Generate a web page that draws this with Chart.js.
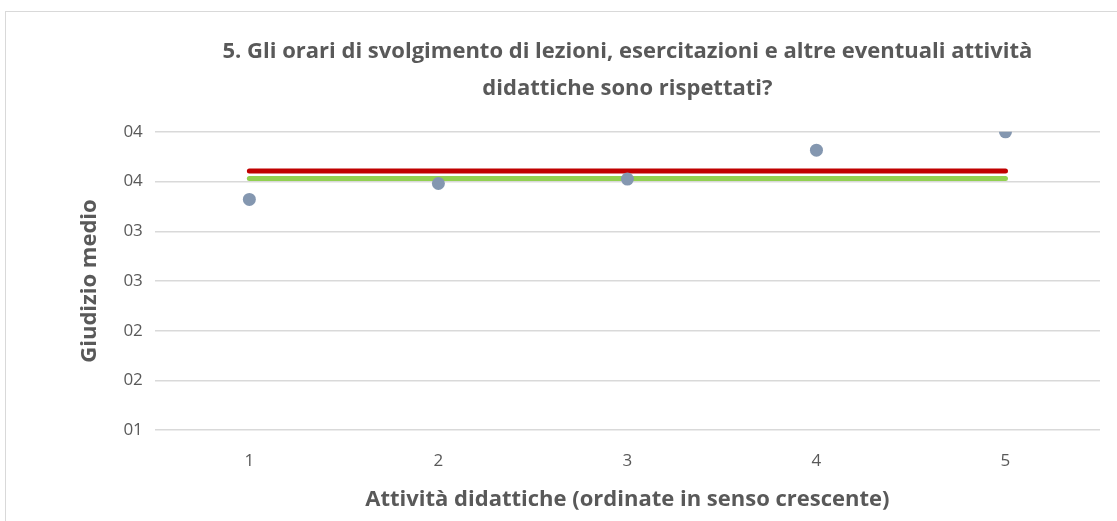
<!DOCTYPE html>
<html>
<head>
<meta charset="utf-8">
<script src="https://cdn.jsdelivr.net/npm/chart.js"></script>
<style>
  body { margin: 0; background: #fff; }
  #frame { position: absolute; left: 5px; top: 11px; width: 1120px; height: 520px; border: 1px solid #d9d9d9; }
  #wrap { position: absolute; left: 0; top: 0; width: 1117px; height: 521px; }
</style>
</head>
<body>
<div id="frame"></div>
<div id="wrap"><canvas id="chart"></canvas></div>
<script>
// Dati del grafico
const categorie = ['1', '2', '3', '4', '5'];
const giudizi = [3.32, 3.48, 3.525, 3.815, 4.0];
const mediaRossa = [3.605, 3.605, 3.605, 3.605, 3.605];
const mediaVerde = [3.53, 3.53, 3.53, 3.53, 3.53];

const font = "'Open Sans', sans-serif";

new Chart(document.getElementById('chart'), {
    type: 'line',
    data: {
        labels: categorie,
        datasets: [{
            label: 'Giudizio',
            data: giudizi,
            showLine: false,
            pointRadius: 6.5,
            pointBackgroundColor: '#8497b0',
            pointBorderWidth: 0
        }, {
            label: 'Media rossa',
            data: mediaRossa,
            borderColor: '#c00000',
            borderWidth: 5,
            borderCapStyle: 'round',
            pointRadius: 0
        }, {
            label: 'Media verde',
            data: mediaVerde,
            borderColor: '#92d050',
            borderWidth: 5,
            borderCapStyle: 'round',
            pointRadius: 0
        }]
    },
    options: {
        responsive: true,
        maintainAspectRatio: false,
        animation: false,
        layout: { padding: { left: 73, right: 17, top: 33, bottom: 8 } },
        plugins: {
            legend: { display: false },
            tooltip: { enabled: false },
            title: {
                display: true,
                fullSize: false,
                text: ['5. Gli orari di svolgimento di lezioni, esercitazioni e altre eventuali attività', 'didattiche sono rispettati?'],
                color: '#595959',
                font: { family: font, size: 22, weight: 'bold', lineHeight: 1.7 },
                padding: { top: 0, bottom: 24 }
            }
        },
        scales: {
            x: {
                offset: true,
                grid: { display: false },
                border: { display: false },
                ticks: { color: '#595959', font: { family: font, size: 17 }, padding: 13 },
                title: {
                    display: true,
                    text: 'Attività didattiche (ordinate in senso crescente)',
                    color: '#595959',
                    font: { family: font, size: 22, weight: 'bold' },
                    padding: { top: 2, bottom: 0 }
                }
            },
            y: {
                min: 1,
                max: 4,
                grid: { color: '#d9d9d9', lineWidth: 1.5, drawTicks: false },
                border: { display: false },
                ticks: {
                    stepSize: 0.5,
                    color: '#595959',
                    font: { family: font, size: 17 },
                    padding: 12,
                    callback: v => String(Math.round(v)).padStart(2, '0')
                },
                title: {
                    display: true,
                    text: 'Giudizio medio',
                    color: '#595959',
                    font: { family: font, size: 22, weight: 'bold' },
                    padding: { bottom: 8 }
                }
            }
        }
    }
});
</script>
</body>
</html>
